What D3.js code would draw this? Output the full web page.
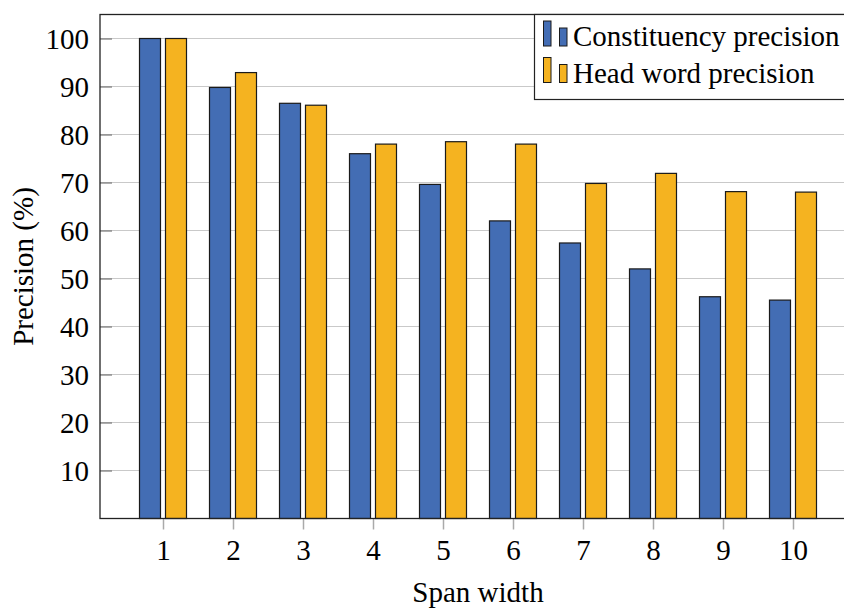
<!DOCTYPE html>
<html>
<head>
<meta charset="utf-8">
<script src="https://cdn.jsdelivr.net/npm/d3@7"></script>
<style>
  html, body { margin: 0; padding: 0; background: #fff; }
  svg { display: block; }
  text { font-family: "Liberation Serif", "Times New Roman", serif; fill: #000; }
</style>
</head>
<body>
<svg id="chart" width="844" height="608"></svg>
<script>
// Span widths on the x axis
const spanWidths = [1, 2, 3, 4, 5, 6, 7, 8, 9, 10];
// Precision (%) per span width
const constituencyPrecision = [100, 89.8, 86.5, 76, 69.6, 62, 57.4, 52, 46.2, 45.5];
const headWordPrecision = [100, 92.9, 86.1, 78, 78.5, 78, 69.8, 71.9, 68.1, 68];
const yTicks = [10, 20, 30, 40, 50, 60, 70, 80, 90, 100];
const seriesNames = ["Constituency precision", "Head word precision"];
const seriesColors = ["#436db4", "#f5b320"];

const svg = d3.select("#chart");
const plotLeft = 100, plotRight = 856, plotTop = 14.5, plotBottom = 518.5;

const x = d3.scaleLinear().domain([0.1, 10.9]).range([plotLeft, plotRight]);
const y = d3.scaleLinear().domain([0, 105]).range([plotBottom, plotTop]);
const offset = d3.scaleBand().domain([0, 1]).range([-23.5, 23.5]).paddingInner(5 / 26);

// horizontal grid
svg.append("g")
  .selectAll("line").data(yTicks).join("line")
  .attr("x1", plotLeft).attr("x2", plotRight)
  .attr("y1", d => y(d)).attr("y2", d => y(d))
  .attr("stroke", "#c9c9c9").attr("stroke-width", 1.2);

// y axis tick marks and labels
const yAxis = d3.axisLeft(y).tickValues(yTicks).tickSize(-12).tickPadding(0);
const gy = svg.append("g").attr("transform", `translate(${plotLeft},0)`).call(yAxis);
gy.select(".domain").remove();
gy.selectAll(".tick line").attr("stroke", "#777").attr("stroke-width", 1.2);
gy.selectAll(".tick text")
  .attr("x", -11).attr("dy", "0.33em")
  .style("font-family", "'Liberation Serif', serif")
  .style("font-size", "29px").attr("fill", "#000");

// x axis tick marks and labels
const xAxis = d3.axisBottom(x).tickValues(spanWidths).tickSize(11).tickPadding(0);
const gx = svg.append("g").attr("transform", `translate(0,${plotBottom})`).call(xAxis);
gx.select(".domain").remove();
gx.selectAll(".tick line").attr("stroke", "#aaa").attr("stroke-width", 1.5);
gx.selectAll(".tick text")
  .attr("y", 41.5).attr("dy", 0)
  .style("font-family", "'Liberation Serif', serif")
  .style("font-size", "29px").attr("fill", "#000");

// bars
const series = [constituencyPrecision, headWordPrecision];
series.forEach((vals, s) => {
  svg.append("g")
    .selectAll("rect").data(spanWidths).join("rect")
    .attr("x", d => x(d) + offset(s))
    .attr("width", offset.bandwidth())
    .attr("y", (d, i) => y(vals[i]))
    .attr("height", (d, i) => y(0) - y(vals[i]))
    .attr("fill", seriesColors[s])
    .attr("stroke", "#1a1a1a").attr("stroke-width", 1.2);
});

// plot frame
svg.append("rect")
  .attr("x", plotLeft).attr("y", plotTop)
  .attr("width", plotRight - plotLeft).attr("height", plotBottom - plotTop)
  .attr("fill", "none").attr("stroke", "#222").attr("stroke-width", 1.3);

// legend
const lg = svg.append("g");
lg.append("rect")
  .attr("x", 534.5).attr("y", 14.5).attr("width", 330).attr("height", 85)
  .attr("fill", "#fff").attr("stroke", "#222").attr("stroke-width", 1.2);
seriesNames.forEach((name, s) => {
  const by = 46 + s * 36.5;
  lg.append("rect").attr("x", 543.5).attr("y", by - 25).attr("width", 7.5).attr("height", 25)
    .attr("fill", seriesColors[s]).attr("stroke", "#1a1a1a").attr("stroke-width", 1);
  lg.append("rect").attr("x", 559.5).attr("y", by - 18).attr("width", 7.5).attr("height", 18)
    .attr("fill", seriesColors[s]).attr("stroke", "#1a1a1a").attr("stroke-width", 1);
  lg.append("text").attr("x", 573).attr("y", by)
    .style("font-size", "29px").text(name);
});

// axis titles
svg.append("text")
  .attr("x", 478).attr("y", 602)
  .attr("text-anchor", "middle").style("font-size", "29px")
  .text("Span width");
svg.append("text")
  .attr("transform", `translate(33,${(plotTop + plotBottom) / 2}) rotate(-90)`)
  .attr("text-anchor", "middle").style("font-size", "29px")
  .text("Precision (%)");
</script>
</body>
</html>
